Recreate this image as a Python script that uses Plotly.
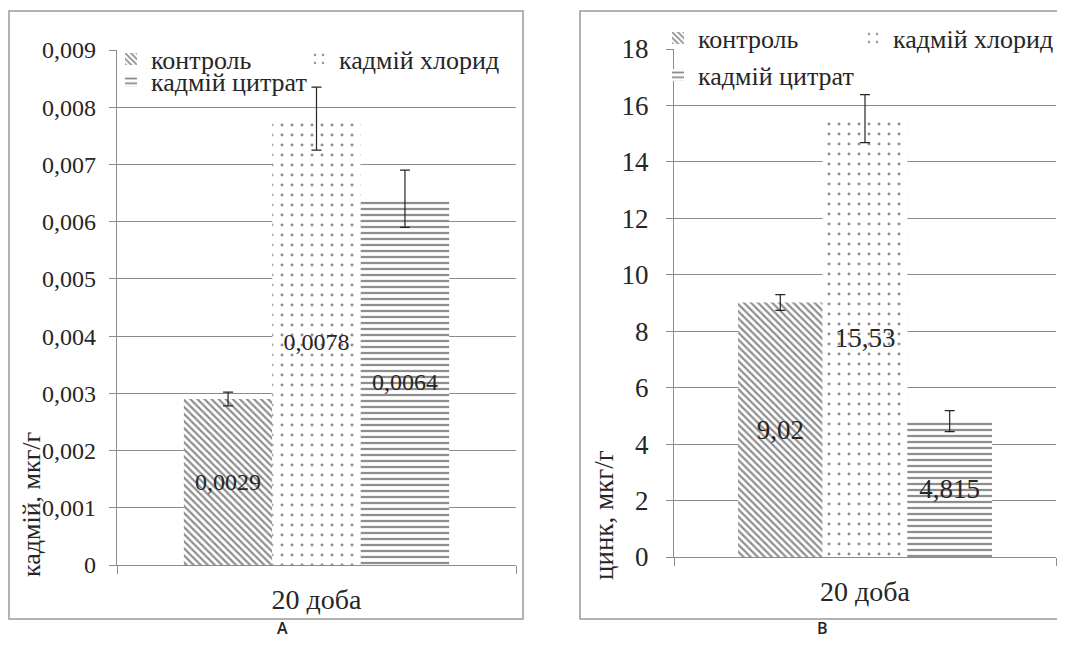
import plotly.graph_objects as go

# ---- data ----
category = ["20 доба"]
series_names = ["контроль", "кадмій хлорид", "кадмій цитрат"]

cd_values = [0.0029, 0.0078, 0.0064]
cd_errors = [0.00012, 0.00055, 0.0005]
cd_labels = ["0,0029", "0,0078", "0,0064"]
cd_tickvals = [0, 0.001, 0.002, 0.003, 0.004, 0.005, 0.006, 0.007, 0.008, 0.009]
cd_ticktext = ["0", "0,001", "0,002", "0,003", "0,004", "0,005", "0,006", "0,007", "0,008", "0,009"]

zn_values = [9.02, 15.53, 4.815]
zn_errors = [0.28, 0.85, 0.37]
zn_labels = ["9,02", "15,53", "4,815"]
zn_tickvals = [0, 2, 4, 6, 8, 10, 12, 14, 16, 18]
zn_ticktext = ["0", "2", "4", "6", "8", "10", "12", "14", "16", "18"]

panel_titles = ["A", "B"]
y_titles = ["кадмій, мкг/г", "цинк, мкг/г"]

# ---- styles ----
PAGE_OFF = 8  # default page body margin
W, H = 1065 - PAGE_OFF, 652 - PAGE_OFF
SERIF = "Liberation Serif, DejaVu Serif, serif"
GRID = "#8c8c8c"
INK = "#262626"
patterns = [
    dict(shape="\\", size=5, solidity=0.45, fgcolor="#1e1e1e", bgcolor="white", fillmode="overlay"),
    dict(shape=".", size=10, solidity=0.07, fgcolor="#1e1e1e", bgcolor="white", fillmode="overlay"),
    dict(shape="-", size=6, solidity=0.38, fgcolor="#1e1e1e", bgcolor="white", fillmode="overlay"),
]

def px_x(p):
    return (p - PAGE_OFF) / W

def px_y(p):
    return (H - (p - PAGE_OFF)) / H

fig = go.Figure()

panels = [
    dict(values=cd_values, errors=cd_errors, labels=cd_labels, xa="x", ya="y",
         legends=["legend", "legend2", "legend3"], fs=24),
    dict(values=zn_values, errors=zn_errors, labels=zn_labels, xa="x2", ya="y2",
         legends=["legend4", "legend5", "legend6"], fs=27),
]

for p in panels:
    for i, name in enumerate(series_names):
        fig.add_trace(go.Bar(
            x=category, y=[p["values"][i]], name=name,
            xaxis=p["xa"], yaxis=p["ya"], legend=p["legends"][i],
            marker=dict(color="white", line=dict(width=0), pattern=patterns[i]),
            error_y=dict(type="data", array=[p["errors"][i]], visible=True,
                         color=INK, thickness=1.2, width=5),
            text=[p["labels"][i]], textposition="inside", insidetextanchor="middle",
            textangle=0, constraintext="none",
            insidetextfont=dict(family=SERIF, size=p["fs"], color=INK),
            hoverinfo="skip",
        ))

common_x = dict(type="category", showline=True, linecolor=GRID, linewidth=1.3,
                ticks="outside", tickson="boundaries", ticklen=8, tickcolor=GRID,
                tickwidth=1.3, showgrid=False, zeroline=False, ticklabelstandoff=9,
                automargin=False, tickfont=dict(family=SERIF, size=28, color=INK))
common_y = dict(showline=True, linecolor=GRID, linewidth=1.3, ticks="outside",
                ticklen=7, tickcolor=GRID, tickwidth=1.3, showgrid=True,
                gridcolor=GRID, gridwidth=1.3, zeroline=False, automargin=False)

def legend_style(size):
    return dict(orientation="h", bgcolor="rgba(0,0,0,0)",
                font=dict(family=SERIF, size=size, color=INK),
                xanchor="left", yanchor="middle", itemwidth=30)

# legend anchor positions (reference pixels) and font sizes
legend_pos = {
    "legend": (111, 59, 26), "legend2": (299, 59, 26), "legend3": (111, 81, 26),
    "legend4": (658, 38, 26), "legend5": (853, 38, 26), "legend6": (658, 75, 26),
}

fig.update_layout(
    width=W, height=H, autosize=False,
    margin=dict(l=0, r=0, t=0, b=0, autoexpand=False),
    paper_bgcolor="white", plot_bgcolor="white",
    barmode="group", bargap=0.335, bargroupgap=0,
    font=dict(family=SERIF, color=INK),
    xaxis=dict(domain=[px_x(117), px_x(516)], anchor="y", **common_x),
    yaxis=dict(domain=[px_y(565), px_y(50)], anchor="x", range=[0, 0.009],
               tickvals=cd_tickvals, ticktext=cd_ticktext, ticklabelstandoff=8,
               tickfont=dict(family=SERIF, size=24, color=INK), **common_y),
    xaxis2=dict(domain=[px_x(674), px_x(1056)], anchor="y2", **common_x),
    yaxis2=dict(domain=[px_y(557), px_y(49)], anchor="x2", range=[0, 18],
                tickvals=zn_tickvals, ticktext=zn_ticktext, ticklabelstandoff=12,
                tickfont=dict(family=SERIF, size=27, color=INK), **common_y),
    showlegend=True,
)
fig.update_layout({k: dict(x=px_x(v[0]), y=px_y(v[1]), **legend_style(v[2]))
                   for k, v in legend_pos.items()})

# panel frames
for x0, x1 in [(9, 523), (580, 1064)]:
    fig.add_shape(type="rect", xref="paper", yref="paper",
                  x0=px_x(x0), x1=px_x(x1), y0=px_y(619), y1=px_y(11),
                  line=dict(color="#9a9a9a", width=1.5), fillcolor="rgba(0,0,0,0)", layer="below")

# axis titles
for (xp, yp, fs), t in zip([(31, 505, 26), (604, 515, 27)], y_titles):
    fig.add_annotation(x=px_x(xp), y=px_y(yp), xref="paper", yref="paper",
                       text=t, textangle=-90, showarrow=False,
                       font=dict(family=SERIF, size=fs, color=INK),
                       xanchor="center", yanchor="middle")

# panel letters
for xp, t in zip([282, 822], panel_titles):
    fig.add_annotation(x=px_x(xp), y=px_y(628), xref="paper", yref="paper",
                       text=t, showarrow=False,
                       font=dict(family="Open Sans", size=16, color="#222222", weight=600),
                       xanchor="center", yanchor="middle")

fig.write_html("out.html")
